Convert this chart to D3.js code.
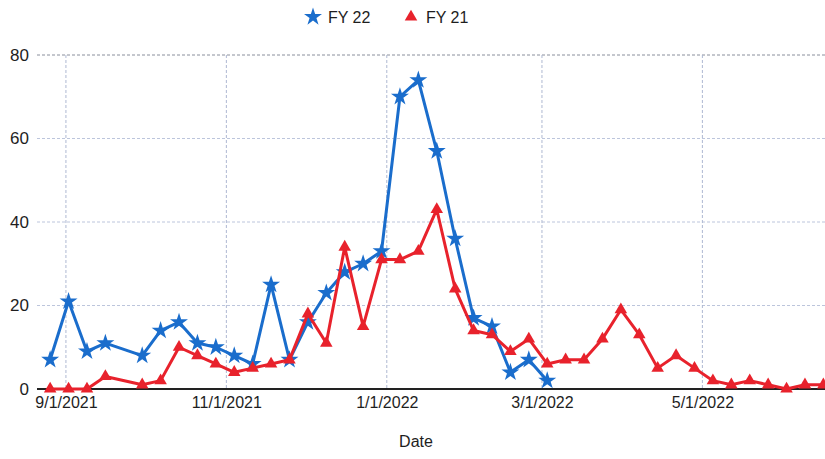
<!DOCTYPE html>
<html>
<head>
<meta charset="utf-8">
<script src="https://cdn.jsdelivr.net/npm/d3@7"></script>
<style>
  body { margin: 0; background: #fff; }
  svg { font-family: "Liberation Sans", Arial, sans-serif; }
</style>
</head>
<body>
<div id="chart"></div>
<script>
    // weekly dates (Thursdays) and values
    var fy22Dates = ["2021-08-26","2021-09-02","2021-09-09","2021-09-16","2021-09-30","2021-10-07",
                     "2021-10-14","2021-10-21","2021-10-28","2021-11-04","2021-11-11","2021-11-18",
                     "2021-11-25","2021-12-02","2021-12-09","2021-12-16","2021-12-23","2021-12-30",
                     "2022-01-06","2022-01-13","2022-01-20","2022-01-27","2022-02-03","2022-02-10",
                     "2022-02-17","2022-02-24","2022-03-03"];
    var fy22Values = [7, 21, 9, 11, 8, 14, 16, 11, 10, 8, 6, 25, 7, 16, 23, 28, 30, 33,
                      70, 74, 57, 36, 17, 15, 4, 7, 2];

    var fy21Dates = fy22Dates.concat(["2022-03-10","2022-03-17","2022-03-24","2022-03-31",
                     "2022-04-07","2022-04-14","2022-04-21","2022-04-28","2022-05-05","2022-05-12",
                     "2022-05-19","2022-05-26","2022-06-02","2022-06-09","2022-06-16"]);
    var fy21Values = [0, 0, 0, 3, 1, 2, 10, 8, 6, 4, 5, 6, 7, 18, 11, 34, 15, 31,
                      31, 33, 43, 24, 14, 13, 9, 12, 6,
                      7, 7, 12, 19, 13, 5, 8, 5, 2, 1, 2, 1, 0, 1, 1];

    var yTicks = [0, 20, 40, 60, 80];
    var xTicks = ["2021-09-01","2021-11-01","2022-01-01","2022-03-01","2022-05-01"];

    var width = 825, height = 459;
    var margin = { top: 55, right: -1, bottom: 70, left: 37 };

    var parse = d3.timeParse("%Y-%m-%d");

    var svg = d3.select("#chart").append("svg")
        .attr("width", width)
        .attr("height", height);

    var x = d3.scaleTime()
        .domain([parse("2021-08-21"), parse("2022-06-17")])
        .range([margin.left, width - margin.right]);

    var y = d3.scaleLinear()
        .domain([0, 80])
        .range([height - margin.bottom, margin.top]);

    // gridlines
    svg.append("g")
      .selectAll("line")
      .data(yTicks.slice(1))
      .enter().append("line")
        .attr("x1", margin.left).attr("x2", width)
        .attr("y1", function(d) { return y(d); })
        .attr("y2", function(d) { return y(d); })
        .attr("stroke", function(d) { return d === 80 ? "#8a8f9c" : "#bcc5dc"; })
        .attr("stroke-width", 1)
        .attr("stroke-dasharray", "3,2");

    svg.append("g")
      .selectAll("line")
      .data(xTicks)
      .enter().append("line")
        .attr("x1", function(d) { return x(parse(d)); })
        .attr("x2", function(d) { return x(parse(d)); })
        .attr("y1", y(80)).attr("y2", y(0))
        .attr("stroke", "#aeb8d2")
        .attr("stroke-width", 1)
        .attr("stroke-dasharray", "3,2");

    // x axis
    var xAxis = d3.axisBottom(x)
        .tickValues(xTicks.map(parse))
        .tickFormat(d3.timeFormat("%-m/%-d/%Y"))
        .tickSize(0)
        .tickPadding(8);

    var gx = svg.append("g")
        .attr("transform", "translate(0," + y(0) + ")")
        .call(xAxis);
    gx.select(".domain").attr("stroke", "#222").attr("stroke-width", 2)
        .attr("d", "M" + margin.left + ",0H" + width);
    gx.selectAll("text").attr("font-size", 16).attr("fill", "#1e1e1e");

    // y axis
    var yAxis = d3.axisLeft(y).tickValues(yTicks).tickSize(0).tickPadding(8);
    var gy = svg.append("g")
        .attr("transform", "translate(" + margin.left + ",0)")
        .call(yAxis);
    gy.select(".domain").remove();
    gy.selectAll("text").attr("font-size", 17).attr("fill", "#1e1e1e");

    // series
    var series = [
      { name: "FY 22", dates: fy22Dates, values: fy22Values, color: "#1a6dcc", symbol: d3.symbolStar, size: 100 },
      { name: "FY 21", dates: fy21Dates, values: fy21Values, color: "#e8222c", symbol: d3.symbolTriangle, size: 68 }
    ];

    var line = d3.line()
        .x(function(d) { return x(d.date); })
        .y(function(d) { return y(d.value); });

    series.forEach(function(s) {
      var pts = s.dates.map(function(d, i) { return { date: parse(d), value: s.values[i] }; });

      svg.append("path")
          .datum(pts)
          .attr("fill", "none")
          .attr("stroke", s.color)
          .attr("stroke-width", 3)
          .attr("stroke-linejoin", "round")
          .attr("d", line);

      svg.append("g")
        .selectAll("path")
        .data(pts)
        .enter().append("path")
          .attr("transform", function(d) { return "translate(" + x(d.date) + "," + y(d.value) + ")"; })
          .attr("d", d3.symbol().type(s.symbol).size(s.size))
          .attr("fill", s.color);
    });

    // legend
    var legend = svg.append("g");
    var legendX = [313, 411];
    series.forEach(function(s, i) {
      legend.append("path")
          .attr("transform", "translate(" + legendX[i] + ",17)")
          .attr("d", d3.symbol().type(s.symbol).size(s.size))
          .attr("fill", s.color);
      legend.append("text")
          .attr("x", legendX[i] + 15)
          .attr("y", 17)
          .attr("dy", "0.35em")
          .attr("font-size", 16)
          .attr("fill", "#1e1e1e")
          .text(s.name);
    });

    // axis title
    svg.append("text")
        .attr("x", 416)
        .attr("y", 441)
        .attr("dy", "0.35em")
        .attr("text-anchor", "middle")
        .attr("font-size", 16)
        .attr("fill", "#1e1e1e")
        .text("Date");
</script>
</body>
</html>
